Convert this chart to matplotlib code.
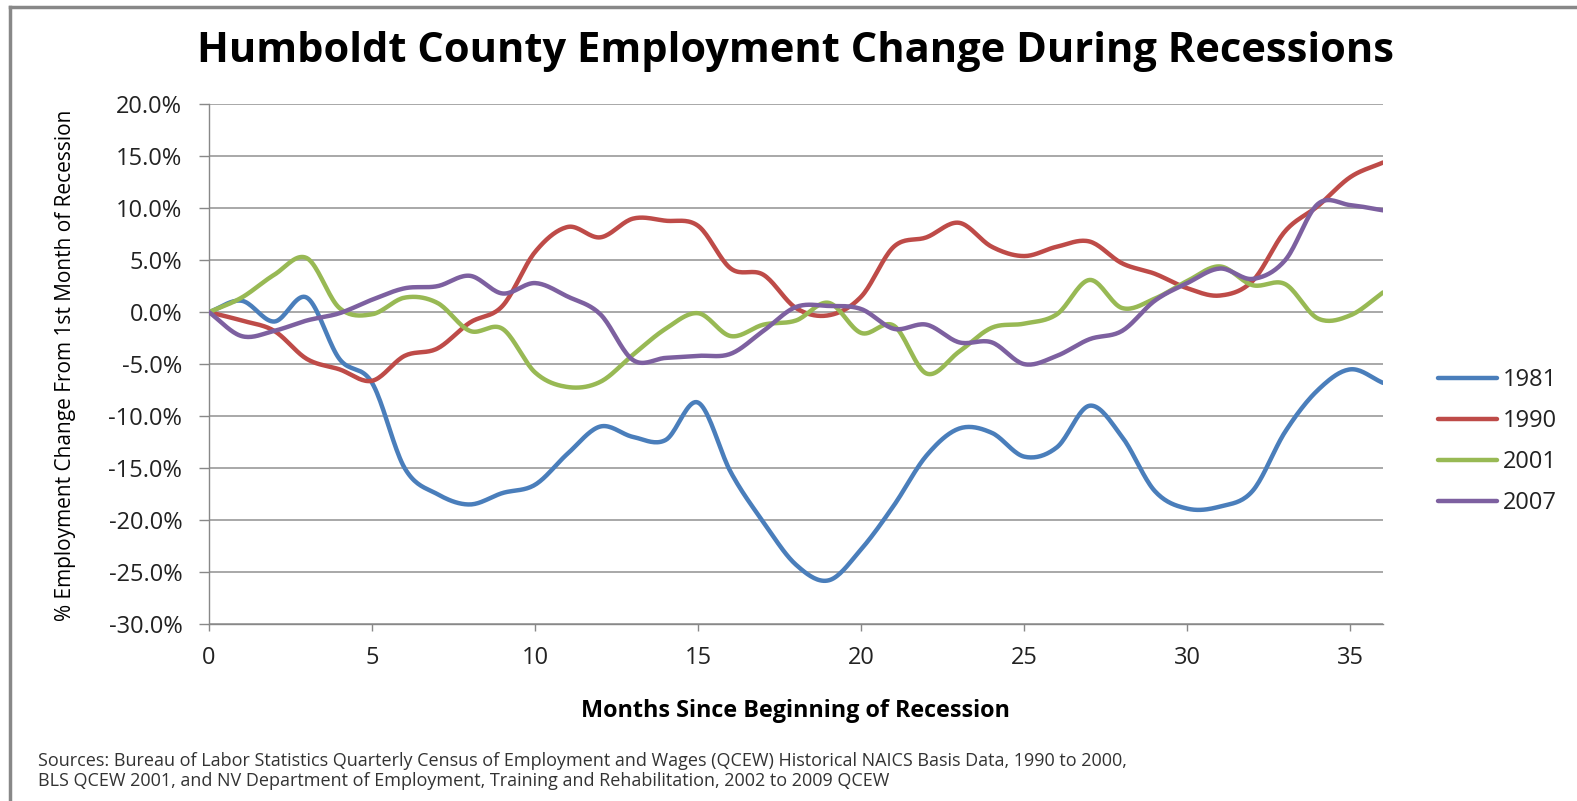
import numpy as np
import matplotlib
matplotlib.use("Agg")
import matplotlib.pyplot as plt
from matplotlib.lines import Line2D

plt.rcParams['font.family'] = ['Open Sans', 'DejaVu Sans']

# ---------------- data ----------------
months = list(range(37))
series_names = ["1981", "1990", "2001", "2007"]
y1981 = [0, 1.1, -0.9, 1.4, -4.5, -6.8, -15.0, -17.5, -18.5, -17.4, -16.6, -13.6, -11.0,
         -12.0, -12.3, -8.7, -15.4, -20.2, -24.3, -25.8, -22.8, -18.6, -13.8, -11.2,
         -11.6, -13.9, -13.0, -9.0, -12.0, -17.2, -18.9, -18.7, -17.2, -11.5, -7.5, -5.5, -6.8]
y1990 = [0, -0.8, -1.8, -4.5, -5.5, -6.6, -4.2, -3.5, -1.0, 0.6, 5.8, 8.2, 7.2,
         9.0, 8.8, 8.3, 4.2, 3.6, 0.4, -0.3, 1.5, 6.3, 7.2, 8.6,
         6.3, 5.4, 6.3, 6.8, 4.7, 3.7, 2.3, 1.6, 3.0, 7.8, 10.2, 13.0, 14.4]
y2001 = [0, 1.4, 3.6, 5.2, 0.4, -0.2, 1.4, 0.9, -1.8, -1.6, -5.8, -7.2, -6.7,
         -4.1, -1.6, -0.1, -2.3, -1.2, -0.8, 0.9, -2.0, -1.3, -5.9, -3.8,
         -1.5, -1.1, -0.2, 3.1, 0.4, 1.3, 3.0, 4.4, 2.6, 2.7, -0.6, -0.3, 1.9]
y2007 = [0, -2.3, -1.8, -0.8, -0.1, 1.2, 2.3, 2.5, 3.5, 1.8, 2.8, 1.5, -0.2,
         -4.6, -4.4, -4.2, -4.0, -1.8, 0.5, 0.6, 0.3, -1.6, -1.2, -2.9,
         -2.9, -5.0, -4.2, -2.6, -1.8, 1.1, 2.8, 4.2, 3.2, 5.0, 10.4, 10.3, 9.8]
colors = ["#4A7EBB", "#BE4B48", "#98B954", "#7D60A0"]
y_ticks = [20, 15, 10, 5, 0, -5, -10, -15, -20, -25, -30]
x_ticks = [0, 5, 10, 15, 20, 25, 30, 35]


def smooth(x, y, n=20):
    """Catmull-Rom smoothing for drawing (like Excel's smoothed line)."""
    x = np.asarray(x, float)
    y = np.asarray(y, float)
    px = np.concatenate([[2 * x[0] - x[1]], x, [2 * x[-1] - x[-2]]])
    py = np.concatenate([[2 * y[0] - y[1]], y, [2 * y[-1] - y[-2]]])
    xs, ys = [], []
    t = np.linspace(0, 1, n, endpoint=False)
    for i in range(1, len(px) - 2):
        for P, out in ((px, xs), (py, ys)):
            p0, p1, p2, p3 = P[i - 1], P[i], P[i + 1], P[i + 2]
            out.extend(0.5 * ((2 * p1) + (-p0 + p2) * t +
                              (2 * p0 - 5 * p1 + 4 * p2 - p3) * t ** 2 +
                              (-p0 + 3 * p1 - 3 * p2 + p3) * t ** 3))
    xs.append(x[-1]); ys.append(y[-1])
    return np.array(xs), np.array(ys)


W, H = 1577, 801
fig = plt.figure(figsize=(W / 100, H / 100), dpi=100)
fig.patch.set_facecolor("white")

ax = fig.add_axes([209 / W, 1 - 624 / H, (1383 - 209) / W, (624 - 104.3) / H])

for name, ys, c in zip(series_names, [y1981, y1990, y2001, y2007], colors):
    sx, sy = smooth(months, ys)
    ax.plot(sx, sy, color=c, lw=3.2, solid_capstyle="round", label=name, zorder=3)

ax.set_xlim(0, 36)
ax.set_ylim(-30, 20)
ax.set_yticks(y_ticks)
ax.set_yticklabels([f"{v:.1f}%" for v in y_ticks])
ax.set_xticks(x_ticks)
ax.set_xticklabels([str(v) for v in x_ticks])
ax.yaxis.grid(True, color="#999999", lw=1.2)
ax.set_axisbelow(True)
for s in ["top", "right"]:
    ax.spines[s].set_visible(False)
for s in ["left", "bottom"]:
    ax.spines[s].set_color("#888888")
    ax.spines[s].set_linewidth(1.0)
ax.tick_params(axis="y", direction="out", length=7.2, width=1.0, color="#888888",
               pad=12, labelsize=17, labelcolor="#222222")
ax.tick_params(axis="x", direction="out", length=5, width=1.0, color="#888888",
               pad=11, labelsize=17, labelcolor="#222222")

fig.text(795 / W, 1 - 51 / H, "Humboldt County Employment Change During Recessions",
         ha="center", va="center", fontsize=30, fontweight="bold", color="black")
fig.text(66 / W, 1 - 365 / H, "% Employment Change From 1st Month of Recession",
         ha="center", va="center", rotation=90, fontsize=15, color="black")
fig.text(795 / W, 1 - 711 / H, "Months Since Beginning of Recession",
         ha="center", va="center", fontsize=16.8, fontweight="bold", color="black")
fig.text(38 / W, 1 - 761 / H,
         "Sources: Bureau of Labor Statistics Quarterly Census of Employment and Wages (QCEW) Historical NAICS Basis Data, 1990 to 2000,",
         ha="left", va="center", fontsize=13, color="#333333")
fig.text(38 / W, 1 - 781 / H,
         "BLS QCEW 2001, and NV Department of Employment, Training and Rehabilitation, 2002 to 2009 QCEW",
         ha="left", va="center", fontsize=13, color="#333333")

leg = fig.legend(loc="center left", bbox_to_anchor=(1438 / W, 1 - 441.5 / H),
                 frameon=False, fontsize=17, handlelength=2.5, handletextpad=0.25,
                 labelspacing=0.72, borderpad=0, borderaxespad=0)
for t in leg.get_texts():
    t.set_color("#222222")

# outer frame (left and top edges visible)
fig.add_artist(Line2D([10 / W, 10 / W], [0, 1 - 7 / H], color="#888888", lw=2.5,
                      transform=fig.transFigure))
fig.add_artist(Line2D([10 / W, 1], [1 - 7 / H, 1 - 7 / H], color="#888888", lw=2.5,
                      transform=fig.transFigure))

fig.savefig("out.png", dpi=100)
